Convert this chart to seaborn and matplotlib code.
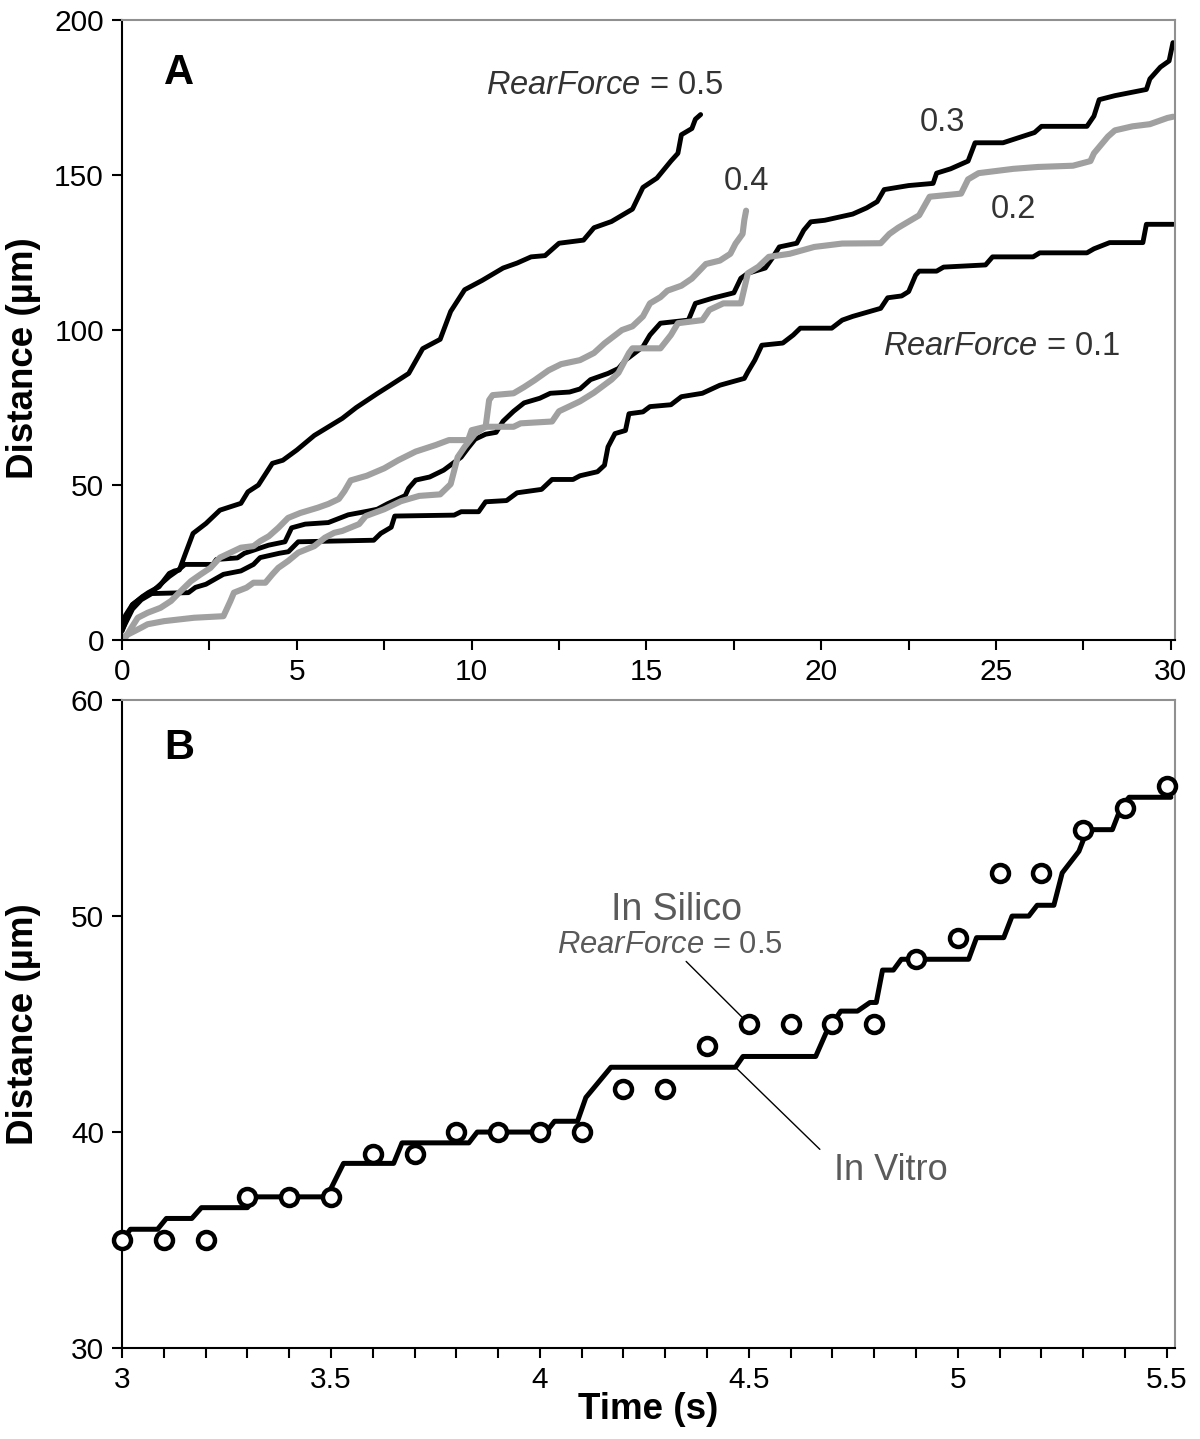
import matplotlib
matplotlib.use("Agg")
import matplotlib.pyplot as plt
from matplotlib.ticker import MultipleLocator
import pandas as pd
import seaborn as sns

# panel A: distance vs time for different RearForce values
t_rf05 = [0, 0.08, 0.29, 0.58, 0.75, 1.06, 1.22, 1.35, 1.5, 1.64, 1.8, 2.03, 2.4, 2.8, 3.4, 3.6, 3.9, 4.3, 4.6, 5.0,
          5.5, 6.3, 6.7, 7.3, 7.65, 8.2, 8.6, 9.1, 9.4, 9.8, 10.3, 10.9, 11.3, 11.7, 12.1, 12.5, 13.2, 13.5, 14.0, 14.6,
          14.9, 15.3, 15.7, 15.9, 16.0, 16.3, 16.4, 16.55]
d_rf05 = [3, 5.4, 11.3, 14, 15.3, 17.2, 19.6, 21.5, 22.3, 22.6, 27.5, 34.4, 37.6, 41.9, 44.1, 47.8, 50, 57, 58, 61.3,
          66, 71.5, 75, 79.5, 82, 86, 94, 97, 106, 113, 116, 120, 121.6, 123.6, 124, 128, 129, 133, 135, 139,
          146, 149, 154.5, 157, 163, 165, 168, 169.5]

t_rf04 = [0, 0.08, 0.27, 0.45, 0.73, 1.1, 1.4, 1.68, 1.97, 2.25, 2.53, 2.8, 3.1, 3.4, 3.76, 3.95, 4.2, 4.47, 4.75, 5.1,
          5.6, 5.9, 6.2, 6.36, 6.54, 7.0, 7.5, 7.9, 8.4, 8.97, 9.35, 9.9, 10.0, 10.4, 10.5, 10.6, 11.2, 11.5, 11.8, 12.2,
          12.56, 13.1, 13.5, 13.8, 14.3, 14.6, 14.9, 15.1, 15.4, 15.6, 16.0, 16.3, 16.7, 17.1, 17.4, 17.55, 17.75, 17.8,
          17.85]
d_rf04 = [0, 0.5, 4, 7.2, 8.8, 10.4, 12.6, 15.8, 19, 21.2, 23.3, 26.6, 28.2, 29.8, 30.3, 31.9, 33.5, 36.2, 39.4, 41,
          42.7, 43.9, 45.5, 48, 51.5, 53, 55.4, 58, 60.8, 62.9, 64.5, 64.5, 67.7, 68.8, 77.4, 79, 79.6, 81.6, 83.8, 87,
          89, 90.3, 92.6, 95.7, 100, 101.2, 104.4, 108.6, 110.6, 112.7, 114.3, 116.6, 121.3, 122.4, 124.6, 127.9, 131,
          135.5, 138.5]

t_rf03 = [0, 0.1, 0.3, 0.6, 0.9, 1.1, 1.35, 1.6, 1.8, 2.6, 2.7, 3.3, 3.5, 4.19, 4.66, 4.85, 5.24, 5.9, 6.47, 7.04,
          7.3, 7.6, 8.1, 8.2, 8.4, 8.8, 9.2, 9.7, 9.9, 10.1, 10.4, 10.7, 10.9, 11.2, 11.5, 11.95, 12.25, 12.8, 13.1, 13.4,
          13.9, 14.2, 14.4, 14.9, 15.1, 15.4, 16.2, 16.4, 16.9, 17.5, 17.7, 17.9, 18.4, 18.6, 18.8, 19.3, 19.5, 19.7,
          20.1, 20.9, 21.3, 21.6, 21.8, 22.5, 23.2, 23.3, 23.7, 24.2, 24.4, 25.2, 26.1, 26.3, 27.6, 27.8, 27.95, 28.4,
          29.3, 29.4, 29.7, 29.95, 30.06]
d_rf03 = [4, 8, 11.5, 14, 16, 18, 20.5, 22.5, 24.4, 24.4, 26, 26.5, 28, 30.6, 31.7, 36.2, 37.4, 37.9, 40.4, 41.6,
          42.2, 44, 46.6, 49, 51.6, 52.6, 54.8, 59, 62, 64.8, 66.4, 67, 70.6, 73.8, 76.5, 78, 79.6, 80, 81, 84,
          86, 87.6, 90.3, 94.6, 98.4, 102.2, 103.2, 108.6, 110.3, 112, 116.7, 118.3, 120, 123.2, 126.8, 128, 132.2, 134.9,
          135.4, 137.4, 139.4, 141.4, 145.3, 146.6, 147.3, 150.6, 152, 154.5, 160.4, 160.4, 163.7, 165.7, 165.7, 169,
          174.3, 175.6, 177.6, 181, 184.8, 186.8, 192.7]

t_rf02 = [0, 0.08, 0.36, 0.55, 0.73, 1.2, 2.06, 2.9, 3.1, 3.2, 3.56, 3.76, 4.1, 4.3, 4.47, 4.75, 5.04, 5.5, 5.8, 6.07,
          6.3, 6.78, 6.97, 7.5, 7.98, 8.5, 9.1, 9.4, 9.6, 9.8, 10.1, 10.4, 11.2, 11.4, 12.3, 12.5, 13.1, 13.5, 14.0, 14.2,
          14.5, 14.6, 15.4, 15.7, 15.9, 16.6, 16.8, 17.2, 17.7, 17.9, 18.2, 18.5, 19.1, 19.8, 20.6, 21.7, 21.95, 22.2,
          22.8, 23.1, 24.0, 24.2, 24.5, 25.5, 26.2, 27.2, 27.7, 27.8, 28.2, 28.4, 28.9, 29.4, 29.9, 30.06]
d_rf02 = [0, 1.3, 2.9, 4, 5.1, 6.1, 7.2, 7.7, 12.6, 15.3, 16.9, 18.5, 18.5, 21.2, 23.3, 25.5, 28.2, 30.3, 33, 34.6,
          35.2, 37.4, 40, 42.2, 44.8, 46.5, 47, 50.3, 59, 62.3, 66.6, 68.8, 68.8, 69.9, 70.5, 73.8, 77, 79.8, 84, 86.2,
          92.6, 94.1, 94.1, 98.4, 102.2, 103.2, 106.5, 108.6, 108.6, 118.3, 120.4, 123.6, 124.6, 126.8, 127.9, 128, 131,
          133, 137, 143, 144, 148.6, 150.6, 152, 152.6, 153, 154.5, 157, 162.4, 164.4, 165.7, 166.4, 168.4, 168.8]

t_rf01 = [0, 0.08, 0.3, 0.55, 0.85, 1.9, 2.1, 2.4, 2.9, 3.4, 3.76, 3.95, 4.5, 4.76, 5.04, 7.2, 7.4, 7.7, 7.8, 9.5,
          9.7, 10.2, 10.4, 11.0, 11.3, 12.0, 12.3, 12.9, 13.1, 13.6, 13.8, 13.9, 14.1, 14.4, 14.5, 14.9, 15.1, 15.7, 16.0,
          16.6, 17.1, 17.8, 17.9, 18.1, 18.3, 18.9, 19.2, 19.4, 20.3, 20.6, 20.9, 21.7, 21.9, 22.3, 22.5, 22.7, 22.8,
          23.3, 23.5, 24.7, 24.9, 26.06, 26.25, 27.6, 27.8, 28.25, 29.2, 29.3, 30.07]
d_rf01 = [3, 5, 10, 13, 15, 15.3, 17, 18, 21.2, 22.3, 24.4, 26.6, 28, 28.5, 31.7, 32.2, 34.4, 36.4, 40, 40.3,
          41.4, 41.4, 44.6, 45, 47.5, 48.6, 51.8, 51.8, 53, 54.3, 56.4, 62.3, 66.6, 67.6, 73, 73.6, 75.3, 75.9, 78.5,
          79.6, 82.2, 84.4, 86.5, 90.3, 95.1, 95.8, 98.4, 100.6, 100.6, 103.2, 104.4, 107, 110.4, 111, 112.4, 117.7, 119,
          119, 120.3, 121, 123.6, 123.6, 124.9, 124.9, 126.2, 128.2, 128.2, 134.1, 134.1]

# panel B: in vitro track vs in silico (RearForce = 0.5)
t_vitro = [3.005, 3.02, 3.085, 3.106, 3.167, 3.19, 3.30, 3.32, 3.49, 3.53, 3.65, 3.67, 3.83, 3.85, 4.015, 4.035,
           4.09, 4.11, 4.17, 4.468, 4.486, 4.66, 4.685, 4.72, 4.76, 4.79, 4.805, 4.82, 4.846, 4.865, 5.026, 5.045,
           5.11, 5.13, 5.17, 5.19, 5.23, 5.25, 5.29, 5.31, 5.37, 5.39, 5.41, 5.51]
d_vitro = [35.1, 35.5, 35.5, 36, 36, 36.5, 36.5, 37, 37, 38.55, 38.55, 39.5, 39.5, 40, 40, 40.5,
           40.5, 41.6, 43, 43, 43.5, 43.5, 44.6, 45.6, 45.6, 46, 46, 47.5, 47.5, 48, 48, 49,
           49, 50, 50, 50.5, 50.5, 52, 53, 54, 54, 55, 55.5, 55.5]

t_silico = [3.0, 3.1, 3.2, 3.3, 3.4, 3.5, 3.6, 3.7, 3.8, 3.9, 4.0, 4.1, 4.2, 4.3, 4.4, 4.5, 4.6, 4.7, 4.8, 4.9,
            5.0, 5.1, 5.2, 5.3, 5.4, 5.5]
d_silico = [35, 35, 35, 37, 37, 37, 39, 39, 40, 40, 40, 40, 42, 42, 44, 45, 45, 45, 45, 48,
            49, 52, 52, 54, 55, 56]

sns.set_style("ticks")
plt.rcParams["font.family"] = ["Liberation Sans", "DejaVu Sans"]
plt.rcParams["mathtext.fontset"] = "custom"
plt.rcParams["mathtext.rm"] = "Liberation Sans"
plt.rcParams["mathtext.it"] = "Liberation Sans:italic"
plt.rcParams["text.color"] = "black"
plt.rcParams["axes.labelcolor"] = "black"
plt.rcParams["xtick.color"] = "black"
plt.rcParams["ytick.color"] = "black"

fig = plt.figure(figsize=(12, 14.39), dpi=100)
axA = fig.add_axes([0.1017, 0.5552, 0.8775, 0.4309])
axB = fig.add_axes([0.1017, 0.0632, 0.8775, 0.4503])

black = "#000000"
grey = "#a0a0a0"
series = [
    (t_rf01, d_rf01, black, 3.5),
    (t_rf03, d_rf03, black, 3.5),
    (t_rf05, d_rf05, black, 3.5),
    (t_rf02, d_rf02, grey, 4.4),
    (t_rf04, d_rf04, grey, 4.4),
]
for t, d, c, lw in series:
    df = pd.DataFrame({"t": t, "d": d})
    sns.lineplot(data=df, x="t", y="d", ax=axA, color=c, linewidth=lw,
                 estimator=None, sort=False, solid_joinstyle="round", solid_capstyle="round")

df_v = pd.DataFrame({"t": t_vitro, "d": d_vitro})
sns.lineplot(data=df_v, x="t", y="d", ax=axB, color=black, linewidth=3.6,
             estimator=None, sort=False, solid_joinstyle="round")
df_s = pd.DataFrame({"t": t_silico, "d": d_silico})
sns.scatterplot(data=df_s, x="t", y="d", ax=axB, s=150, marker="o", facecolor="white",
                edgecolor=black, linewidth=3.2, zorder=5, clip_on=False)

text_grey = "#333333"
fsz = 23.5
axA.text(13.8, 179, r"$\mathit{RearForce}$ = 0.5", ha="center", va="center", fontsize=fsz, color=text_grey)
axA.text(17.85, 148, "0.4", ha="center", va="center", fontsize=fsz, color=text_grey)
axA.text(23.47, 167, "0.3", ha="center", va="center", fontsize=fsz, color=text_grey)
axA.text(25.5, 139, "0.2", ha="center", va="center", fontsize=fsz, color=text_grey)
axA.text(25.16, 94.8, r"$\mathit{RearForce}$ = 0.1", ha="center", va="center", fontsize=fsz, color=text_grey)

label_grey = "#5a5a5a"
axB.text(4.326, 50.28, "In Silico", ha="center", va="center", fontsize=27, color=label_grey)
axB.text(4.31, 48.66, r"$\mathit{RearForce}$ = 0.5", ha="center", va="center", fontsize=22.3, color=label_grey)
axB.text(4.84, 38.24, "In Vitro", ha="center", va="center", fontsize=26, color=label_grey)
axB.plot([4.35, 4.49], [47.9, 45.2], color=black, linewidth=1)
axB.plot([4.468, 4.67], [43.0, 39.2], color=black, linewidth=1)

axA.text(0.054, 0.915, "A", transform=axA.transAxes, ha="center", va="center", fontsize=30,
         fontweight="bold", color=black)
axB.text(0.054, 0.926, "B", transform=axB.transAxes, ha="center", va="center", fontsize=30,
         fontweight="bold", color=black)

axA.set_xlim(0, 30.12)
axA.set_ylim(0, 200)
axA.xaxis.set_major_locator(MultipleLocator(5))
axA.xaxis.set_minor_locator(MultipleLocator(2.5))
axA.yaxis.set_major_locator(MultipleLocator(50))

axB.set_xlim(3, 5.52)
axB.set_ylim(30, 60)
axB.xaxis.set_major_locator(MultipleLocator(0.5))
axB.xaxis.set_minor_locator(MultipleLocator(0.1))
axB.yaxis.set_major_locator(MultipleLocator(10))
axB.set_xticks([3, 3.5, 4, 4.5, 5, 5.5])
axB.set_xticklabels(["3", "3.5", "4", "4.5", "5", "5.5"])

for ax in (axA, axB):
    ax.tick_params(axis="both", which="both", direction="out", length=7, width=1.5, color=black,
                   labelsize=21.5, labelcolor=black, pad=6)
    ax.spines["left"].set_color(black)
    ax.spines["bottom"].set_color(black)
    ax.spines["top"].set_color("#909090")
    ax.spines["right"].set_color("#909090")
    for sp in ax.spines.values():
        sp.set_linewidth(1.5)
    ax.set_ylabel("Distance (µm)", fontsize=26.5, fontweight="bold")
    ax.set_xlabel("")

axA.yaxis.set_label_coords(-0.077, 0.455)
axB.yaxis.set_label_coords(-0.077, 0.5)
axB.set_xlabel("Time (s)", fontsize=26.5, fontweight="bold")
axB.xaxis.set_label_coords(0.5, -0.068)

fig.savefig("out.png", dpi=100)
